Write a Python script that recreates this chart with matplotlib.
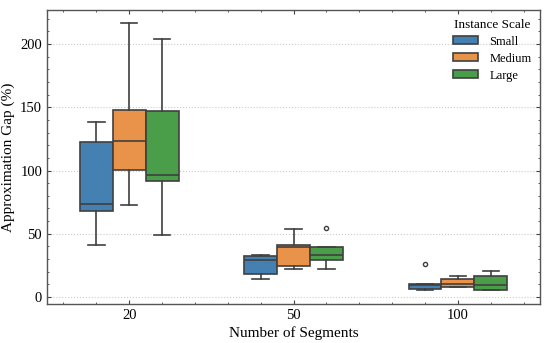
import matplotlib
matplotlib.use('Agg')
import matplotlib.pyplot as plt
from matplotlib.patches import Patch
from matplotlib.ticker import AutoMinorLocator
import numpy as np

plt.rcParams['font.family'] = ['Liberation Serif', 'DejaVu Serif']
plt.rcParams['mathtext.fontset'] = 'stix'

segments = ['20', '50', '100']
scales = ['Small', 'Medium', 'Large']
colors = ['#4580b3', '#e8924a', '#4a9e4a']

# box stats, one list per scale, in segment order
small_whislo = [41.2, 13.8, 5.4]
small_q1 = [68.2, 18.3, 6.2]
small_med = [73.8, 29.6, 9.7]
small_q3 = [122.4, 32.2, 10.1]
small_whishi = [138.2, 32.9, 10.1]
small_fliers = [[], [], [26.4]]

medium_whislo = [72.4, 22.2, 8.0]
medium_q1 = [100.3, 24.3, 8.0]
medium_med = [123.5, 39.6, 10.6]
medium_q3 = [147.9, 41.2, 14.0]
medium_whishi = [216.3, 53.5, 16.4]
medium_fliers = [[], [], []]

large_whislo = [48.8, 22.2, 5.4]
large_q1 = [91.7, 29.6, 5.8]
large_med = [96.4, 33.3, 9.3]
large_q3 = [147.1, 39.6, 16.2]
large_whishi = [203.9, 39.6, 20.9]
large_fliers = [[], [54.6], []]

all_stats = [
    (small_whislo, small_q1, small_med, small_q3, small_whishi, small_fliers),
    (medium_whislo, medium_q1, medium_med, medium_q3, medium_whishi, medium_fliers),
    (large_whislo, large_q1, large_med, large_q3, large_whishi, large_fliers),
]

fig = plt.figure(figsize=(5.5, 3.43), dpi=100)
ax = fig.add_axes([0.0855, 0.114, 0.8965, 0.857])

edge = '#404040'
offsets = [-0.2, 0.0, 0.2]
for k, (wl, q1, med, q3, wh, fl) in enumerate(all_stats):
    stats = []
    for i in range(len(segments)):
        stats.append(dict(whislo=wl[i], q1=q1[i], med=med[i], q3=q3[i], whishi=wh[i], fliers=fl[i]))
    pos = np.arange(len(segments)) + offsets[k]
    ax.bxp(stats, positions=pos, widths=0.2, patch_artist=True, showfliers=True, manage_ticks=False,
           boxprops=dict(facecolor=colors[k], edgecolor=edge, linewidth=1.2),
           medianprops=dict(color=edge, linewidth=1.2),
           whiskerprops=dict(color=edge, linewidth=1.2),
           capprops=dict(color=edge, linewidth=1.2),
           flierprops=dict(marker='o', markersize=3, markerfacecolor='none', markeredgecolor=edge, markeredgewidth=1))

ax.set_xlim(-0.5, 2.5)
ax.set_ylim(-5.5, 227)
ax.set_xticks(range(len(segments)))
ax.set_xticklabels(segments)
ax.set_yticks([0, 50, 100, 150, 200])
ax.xaxis.set_minor_locator(AutoMinorLocator(5))
ax.yaxis.set_minor_locator(AutoMinorLocator(5))
ax.tick_params(which='both', direction='in', top=True, right=True, colors='#444444', labelcolor='black', labelsize=10.5)
ax.tick_params(which='major', length=3)
ax.tick_params(which='minor', length=1.5)
for s in ax.spines.values():
    s.set_color('#555555')
    s.set_linewidth(1.0)
ax.yaxis.grid(True, linestyle=':', color='#cccccc', linewidth=0.8)
ax.set_axisbelow(True)

ax.set_xlabel('Number of Segments', fontsize=11, labelpad=3)
ax.set_ylabel('Approximation Gap (%)', fontsize=11, labelpad=4)

handles = [Patch(facecolor=colors[k], edgecolor=edge, linewidth=1.2, label=scales[k]) for k in range(3)]
ax.legend(handles=handles, title='Instance Scale', loc='upper right', frameon=False, fontsize=9,
          title_fontsize=9.5, handlelength=2.0, handleheight=0.6, labelspacing=0.4, handletextpad=0.9,
          borderaxespad=0.3, bbox_to_anchor=(1.0, 1.0))

fig.savefig('out.png', dpi=100)
